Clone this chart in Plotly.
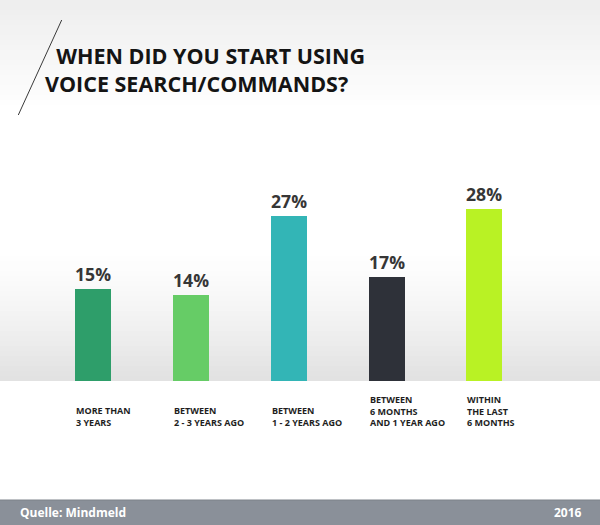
import plotly.graph_objects as go

categories = ["MORE THAN<br>3 YEARS", "BETWEEN<br>2 - 3 YEARS AGO", "BETWEEN<br>1 - 2 YEARS AGO",
              "BETWEEN<br>6 MONTHS<br>AND 1 YEAR AGO", "WITHIN<br>THE LAST<br>6 MONTHS"]
values = [15, 14, 27, 17, 28]
value_labels = ["15%", "14%", "27%", "17%", "28%"]
colors = ["#2e9e6a", "#66cc66", "#33b5b6", "#2e3139", "#b9f224"]

W, H = 600, 525
title_lines = ["WHEN DID YOU START USING", "VOICE SEARCH/COMMANDS?"]
source = "Quelle: Mindmeld"
year = "2016"

def py(px):
    return (H - px) / H

BOLD = dict(family="Open Sans", weight="bold")

fig = go.Figure()
fig.add_trace(go.Bar(
    x=list(range(len(categories))), y=values, marker=dict(color=colors, line=dict(width=0)),
    width=0.37, text=value_labels, textposition="outside", cliponaxis=False,
    textfont=dict(size=18, color="#363636", **BOLD), hoverinfo="skip",
))

shapes = []
# top background gradient
n = 22
for i in range(n):
    y0, y1 = i * 5, (i + 1) * 5
    c = int(238 + (255 - 238) * i / (n - 1))
    shapes.append(dict(type="rect", xref="paper", yref="paper", x0=0, x1=1, y0=py(y1), y1=py(y0),
                       fillcolor=f"rgb({c},{c},{c})", line=dict(width=0), layer="below"))
# gradient behind bars
n = 26
for i in range(n):
    y0, y1 = 251 + i * 5, 251 + (i + 1) * 5
    c = int(255 - (255 - 226) * (i / (n - 1)) ** 1.3)
    shapes.append(dict(type="rect", xref="paper", yref="paper", x0=0, x1=1, y0=py(min(y1, 381)), y1=py(y0),
                       fillcolor=f"rgb({c},{c},{c})", line=dict(width=0), layer="below"))
# slash
shapes.append(dict(type="line", xref="paper", yref="paper", x0=61.7 / W, y0=py(20), x1=18.3 / W, y1=py(115),
                   line=dict(color="#3a3a3a", width=1)))
# footer
shapes.append(dict(type="rect", xref="paper", yref="paper", x0=0, x1=1, y0=0, y1=py(500),
                   fillcolor="#8a9099", line=dict(width=0)))
shapes.append(dict(type="line", xref="paper", yref="paper", x0=0, x1=1, y0=py(500), y1=py(500),
                   line=dict(color="#7c828a", width=1)))

title_text = "&nbsp;&nbsp;" + title_lines[0] + "<br>" + title_lines[1]
annotations = [
    dict(text=title_text, x=43 / W, y=py(69), xref="paper", yref="paper", xanchor="left", yanchor="middle",
         align="left", showarrow=False, font=dict(size=21.5, color="#141414", **BOLD)),
    dict(text=source, x=18 / W, y=py(512.5), xref="paper", yref="paper", xanchor="left", yanchor="middle",
         showarrow=False, font=dict(size=12, color="#ffffff", **BOLD)),
    dict(text=year, x=584 / W, y=py(512.5), xref="paper", yref="paper", xanchor="right", yanchor="middle",
         showarrow=False, font=dict(size=12, color="#ffffff", **BOLD)),
]
for i, cat in enumerate(categories):
    annotations.append(dict(text=cat, x=i, xref="x", xshift=-19, y=py(431), yref="paper",
                            xanchor="left", yanchor="bottom", align="left", showarrow=False,
                            font=dict(size=9, color="#1e1e1e", **BOLD)))

px_per_unit = 97.8
c0 = 93.2
fig.update_layout(
    width=W, height=H, margin=dict(l=0, r=0, t=0, b=0),
    paper_bgcolor="#ffffff", plot_bgcolor="rgba(0,0,0,0)",
    showlegend=False, bargap=0,
    xaxis=dict(domain=[0, 1], range=[-c0 / px_per_unit, (W - c0) / px_per_unit],
               showticklabels=False, showgrid=False, zeroline=False, showline=False, fixedrange=True),
    yaxis=dict(domain=[py(381), 1], range=[0, 381 / 6.128], showticklabels=False, showgrid=False,
               zeroline=False, showline=False, fixedrange=True),
    shapes=shapes, annotations=annotations,
)
fig.write_html("out.html", config={"displayModeBar": False},
               post_script="document.body.style.margin='0';document.body.style.overflow='hidden';")
